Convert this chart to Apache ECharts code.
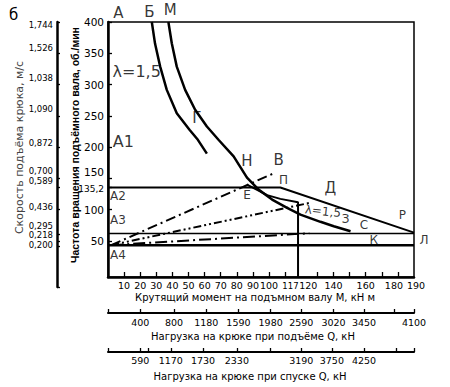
<!DOCTYPE html>
<html><head><meta charset="utf-8">
<script src="https://cdn.jsdelivr.net/npm/echarts@6/dist/echarts.min.js"></script>
<style>html,body{margin:0;padding:0;background:#fff}#c{width:450px;height:387px}</style>
</head><body><div id="c"></div>
<script>
// ---- axis ticks & labels (moment axis units: M, kN·m; speed axis units: rpm) ----
const momentTicks = [10,20,30,40,50,60,70,80,90,100,110,130,140,150,160,170,180];
const momentLabels = [10,20,30,40,50,60,70,80,90,100,117,120,140,160,180,190];
const liftTicksM = [0,20,41,61,81,101,120,140,159,178,190];
const liftLabels = ['','400','800','1180','1590','1980','2590','3020','3450','','4100'];
const lowerTicksM = [0,20,25,39,59,80,101,120,139,159,179,190];
const lowerLabels = ['','590','','1170','1730','2330','','3190','3750','4250','',''];
const rpmTicks = [50,100,135.2,150,200,250,300,350,400];
const speedTicksRpm = [400,350,300,250,200,150,135.2,100,60,49,41,-24];
const speedLabelAtRpm = [396,358,310,261,207,161,145,104.5,73,58.5,44];
const speedLabels = ['1,744','1,526','1,038','1,090','0,872','0,700','0,589','0,436','0,295','0,218','0,200'];

// ---- curves and lines [M, n] ----
const curveB = [[27.2,400],[29.2,365.5],[32.4,328.6],[36.5,291.4],[42.7,254],[50.6,227.5],[55.8,211.5],[61.4,189.3]];
const curveM = [[37.5,400],[39.6,365.9],[42.7,328.6],[47.9,291.4],[54.1,259.5],[61.4,232.8],[68.6,211.6],[78,185],[86.3,151],[93.5,131.8],[101.9,115.9],[111.2,102.6],[119.5,91.9],[131.9,80.3],[140.2,73.3],[150.6,65.3]];
const lineE = [[86.3,139.8],[93.5,130.2],[98.8,123],[107,117],[118,111.6],[118,-8]];
const lineP = [[0,135.2],[107,135.2],[190,63]];
const lineA3 = [[0,61.5],[190,61.5]];
const lineA4 = [[0,43],[190,43]];
const rayV = [[2,43],[103,158]];
const rayLambda = [[2,43],[126,111]];
const rayK = [[2,43],[125,62]];

// ---- annotations [text, M, n] ----
const labelsXL = [['λ=1,5',17.8,320.6],['А1',9.5,208.9]];
const labelsL = [['А',6.4,413.8],['Б',25.7,416.4],['М',38.6,419],['Г',55.2,246.2],['Н',86.3,177],['В',106,179.7],['Д',138.1,134.5]];
const labelsS = [['П',109,146.7],['Е',86.3,123.8],['А2',6.2,121],['А3',6.2,84],['А4',6.2,27],['З',147.5,85],['С',158.9,76],['Р',182.8,91.9],['К',165,52],['Л',196.2,52]];
const labelsTilt = [['λ=1,5',133.5,97.2]];

const F = 'DejaVu Sans';
function lookup(ticks, labels){ return v => { const i = ticks.findIndex(t => Math.abs(t - v) < 1e-6); return i < 0 ? '' : labels[i]; }; }
const lineSer = (data, width, type) => ({type:'line', xAxisIndex:0, yAxisIndex:0, data, symbol:'none', silent:true,
  lineStyle:{color:'#000', width, type: type || 'solid'}, animation:false});
const textSer = (arr, size, extra) => ({type:'scatter', xAxisIndex:0, yAxisIndex:0, clip:false, silent:true,
  symbolSize:1, itemStyle:{color:'rgba(0,0,0,0)'}, data: arr.map(a => [a[1], a[2], a[0]]),
  label:Object.assign({show:true, position:'inside', formatter:p => p.data[2], color:'#000', fontSize:size, fontFamily:F}, extra || {})});

const axisLbl = {color:'#000', fontSize:9.5, fontFamily:F};
const rs = (pad, size) => ({padding:pad, fontSize:size || 9.5, fontFamily:F, color:'#000'});
const chart = echarts.init(document.getElementById('c'), null, {renderer:'svg', width:450, height:387});
chart.setOption({
  animation:false,
  backgroundColor:'#fff',
  title:{text:'б', left:4, top:2, textStyle:{fontSize:15, fontWeight:'normal', color:'#000', fontFamily:F}},
  grid:[
    {left:108, right:36, top:22, bottom:110, show:true, borderColor:'#000', borderWidth:1.5},
    {left:57, width:10, top:22, bottom:100, show:false}
  ],
  xAxis:[
    {gridIndex:0, type:'value', min:0, max:190, position:'bottom',
      axisLine:{show:true, onZero:false, lineStyle:{color:'#000', width:2.5}},
      axisTick:{show:true, inside:true, length:5, customValues:momentTicks, lineStyle:{color:'#000', width:1.3}},
      axisLabel:Object.assign({customValues:momentLabels, margin:3, showMaxLabel:true, showMinLabel:true, hideOverlap:false,
        formatter:v => v === 117 ? '{a|117}' : v === 120 ? '{b|120}' : v === 180 ? '{c|180}' : v === 190 ? '{e|190}' : String(v),
        rich:{a:Object.assign(rs([2,12,0,0], 8.5), {lineHeight:9}), b:rs([0,0,0,14]), c:rs([0,8,0,0]), e:rs([0,0,0,4])}}, axisLbl),
      splitLine:{show:false},
      name:'Крутящий момент на подъмном валу М, кН м', nameLocation:'middle', nameGap:15, nameMoveOverlap:false,
      nameTextStyle:{color:'#000', fontSize:10, fontFamily:F, padding:[0,12,0,0]}},
    {gridIndex:0, type:'value', min:0, max:190, position:'bottom', offset:36,
      axisLine:{show:true, onZero:false, lineStyle:{color:'#000', width:2}},
      axisTick:{show:true, inside:true, length:4, customValues:liftTicksM, lineStyle:{color:'#000', width:1.3}},
      axisLabel:Object.assign({customValues:liftTicksM, margin:4, showMaxLabel:true, formatter:lookup(liftTicksM, liftLabels)}, axisLbl),
      splitLine:{show:false},
      name:'Нагрузка на крюке при подъёме Q, кН', nameLocation:'middle', nameGap:18, nameMoveOverlap:false,
      nameTextStyle:{color:'#000', fontSize:10, fontFamily:F, padding:[0,16,0,0]}},
    {gridIndex:0, type:'value', min:0, max:190, position:'bottom', offset:75,
      axisLine:{show:true, onZero:false, lineStyle:{color:'#000', width:2}},
      axisTick:{show:true, inside:true, length:4, customValues:lowerTicksM, lineStyle:{color:'#000', width:1.3}},
      axisLabel:Object.assign({customValues:lowerTicksM, margin:3, formatter:lookup(lowerTicksM, lowerLabels)}, axisLbl),
      splitLine:{show:false},
      name:'Нагрузка на крюке при спуске Q, кН', nameLocation:'middle', nameGap:19, nameMoveOverlap:false,
      nameTextStyle:{color:'#000', fontSize:10, fontFamily:F, padding:[0,22,0,0]}},
    {gridIndex:1, type:'value', show:false, min:0, max:1}
  ],
  yAxis:[
    {gridIndex:0, type:'value', min:-8, max:400, position:'left',
      axisLine:{show:true, onZero:false, lineStyle:{color:'#000', width:2.5}},
      axisTick:{show:true, inside:true, length:4, customValues:rpmTicks, lineStyle:{color:'#000', width:1.3}},
      axisLabel:Object.assign({customValues:rpmTicks, margin:4, showMaxLabel:true,
        formatter:v => v === 150 ? '{u|150}' : (v === 135.2 ? '{d|135,2}' : String(v)),
        rich:{u:rs([0,0,12,0], 10.5), d:rs([3,0,0,0], 9)}}, axisLbl, {fontSize:10.5}),
      splitLine:{show:false},
      name:'Частота вращения подъёмного вала, об./мин', nameLocation:'middle', nameRotate:90, nameGap:28, nameMoveOverlap:false,
      nameTextStyle:{color:'#000', fontSize:10.5, fontWeight:'bold', fontFamily:'Liberation Sans', padding:[0,0,0,9]}},
    {gridIndex:1, type:'value', min:-24, max:400, position:'left',
      axisLine:{show:true, onZero:false, lineStyle:{color:'#000', width:2.5}},
      axisTick:{show:true, inside:true, length:3, customValues:speedTicksRpm, lineStyle:{color:'#000', width:1.3}},
      axisLabel:Object.assign({customValues:speedLabelAtRpm, margin:4, formatter:lookup(speedLabelAtRpm, speedLabels), lineHeight:8}, axisLbl, {fontSize:8.5}),
      splitLine:{show:false},
      name:'Скорость подъёма крюка, м/с', nameLocation:'middle', nameRotate:90, nameGap:32, nameMoveOverlap:false,
      nameTextStyle:{color:'#444', fontSize:11, fontFamily:F, padding:[0,0,0,14]}}
  ],
  series:[
    lineSer(curveB, 2.5),
    lineSer(curveM, 2.5),
    lineSer(lineE, 2),
    lineSer(lineP, 2),
    lineSer(lineA3, 1.5),
    lineSer(lineA4, 2.5),
    lineSer(rayV, 2, [10,4,2,4]),
    lineSer(rayLambda, 2, [8,3,2,3,2,3]),
    lineSer(rayK, 2, [12,4,2,4]),
    textSer(labelsXL, 16),
    textSer(labelsL, 15),
    textSer(labelsS, 12),
    textSer(labelsTilt, 12, {rotate:-6})
  ]
});
</script></body></html>
